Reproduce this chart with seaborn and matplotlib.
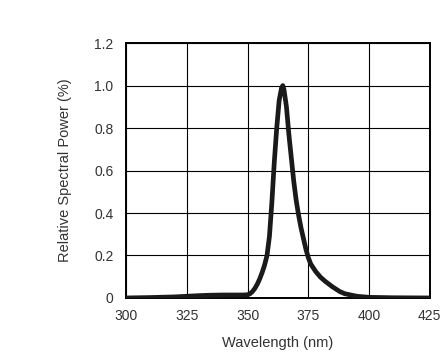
import matplotlib
matplotlib.use("Agg")
import matplotlib.pyplot as plt
import seaborn as sns
import pandas as pd

# Spectrum
wavelength = [300, 310, 320, 325, 330, 335, 340, 345, 348, 350, 351, 352, 353, 354,
              355, 356, 357, 358, 359, 360, 361, 362, 363, 364, 364.5, 365, 366,
              367, 368, 369, 370, 371, 372, 373, 374, 375, 376, 378, 380, 382,
              385, 388, 390, 395, 400, 410, 425]
power = [0.0, 0.002, 0.005, 0.008, 0.011, 0.013, 0.014, 0.014, 0.014, 0.015, 0.02,
         0.03, 0.045, 0.065, 0.09, 0.12, 0.155, 0.20, 0.29, 0.45, 0.64, 0.80, 0.93,
         0.99, 1.0, 0.98, 0.90, 0.77, 0.66, 0.55, 0.46, 0.39, 0.33, 0.28, 0.23,
         0.19, 0.16, 0.125, 0.098, 0.078, 0.052, 0.03, 0.02, 0.008, 0.003, 0.001, 0.0]

x_ticks = [300, 325, 350, 375, 400, 425]
y_ticks = [0, 0.2, 0.4, 0.6, 0.8, 1.0, 1.2]
y_labels = ["0", "0.2", "0.4", "0.6", "0.8", "1.0", "1.2"]

df = pd.DataFrame({"Wavelength": wavelength, "Power": power})

sns.set_style("white")
plt.rcParams["font.family"] = ["Liberation Sans", "DejaVu Sans"]

fig = plt.figure(figsize=(4.44, 3.59), dpi=100)
ax = fig.add_axes([0.284, 0.170, 0.684, 0.710])

sns.lineplot(data=df, x="Wavelength", y="Power", ax=ax, color="#1a1a1a",
             linewidth=3.4, zorder=3)

ax.set_xlim(300, 425)
ax.set_ylim(0, 1.2)
ax.set_xticks(x_ticks)
ax.set_yticks(y_ticks)
ax.set_yticklabels(y_labels)
ax.grid(True, color="black", linewidth=0.8)
ax.tick_params(axis="y", length=0, labelsize=10, colors="#333333", pad=9)
ax.tick_params(axis="x", length=0, labelsize=10, colors="#333333", pad=8)
for s in ax.spines.values():
    s.set_color("black")
    s.set_linewidth(1.4)

ax.set_xlabel("Wavelength (nm)", fontsize=10.5, color="#333333", labelpad=9)
ax.set_ylabel("Relative Spectral Power (%)", fontsize=10.5, color="#333333", labelpad=16)

fig.savefig("out.png", dpi=100)
